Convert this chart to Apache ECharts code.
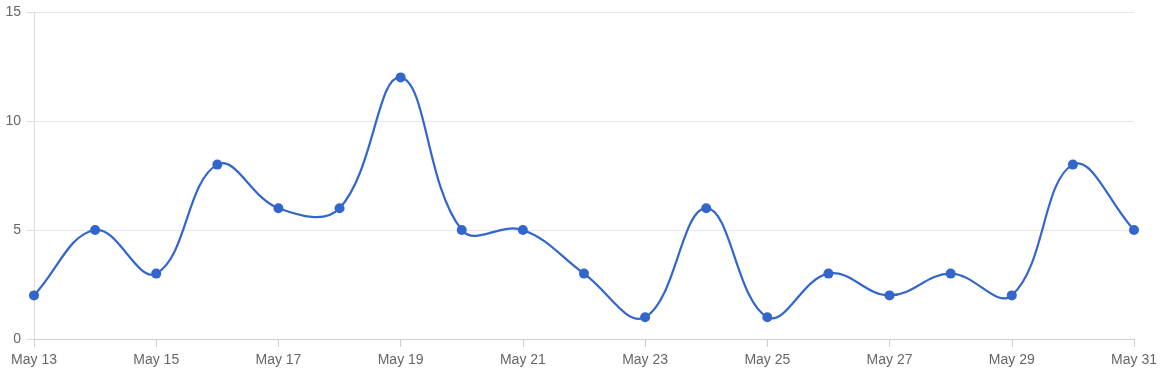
<!DOCTYPE html>
<html><head><meta charset="utf-8">
<script src="https://cdn.jsdelivr.net/npm/echarts@6/dist/echarts.min.js"></script>
<style>html,body{margin:0;padding:0;background:#fff}#c{width:1162px;height:375px}</style>
</head><body><div id="c"></div>
<script>
const categories = ['May 13','May 14','May 15','May 16','May 17','May 18','May 19','May 20','May 21','May 22','May 23','May 24','May 25','May 26','May 27','May 28','May 29','May 30','May 31'];
const values = [2,5,3,8,6,6,12,5,5,3,1,6,1,3,2,3,2,8,5];
const yTicks = [0,5,10,15];
const LINE_COLOR = '#3366cc';
const TENSION = 0.4;

function controlPoints(prev, cur, next) {
  const d01 = Math.hypot(cur[0]-prev[0], cur[1]-prev[1]);
  const d12 = Math.hypot(next[0]-cur[0], next[1]-cur[1]);
  let s01 = d01/(d01+d12), s12 = d12/(d01+d12);
  if (!isFinite(s01)) s01 = 0; if (!isFinite(s12)) s12 = 0;
  const fa = TENSION*s01, fb = TENSION*s12;
  return {
    prev: [cur[0]-fa*(next[0]-prev[0]), cur[1]-fa*(next[1]-prev[1])],
    next: [cur[0]+fb*(next[0]-prev[0]), cur[1]+fb*(next[1]-prev[1])]
  };
}

const chart = echarts.init(document.getElementById('c'));
chart.setOption({
  animation:false,
  grid:{left:34,right:28,top:12,bottom:36,containLabel:false},
  xAxis:{type:'category',data:categories,boundaryGap:false,
    axisLine:{lineStyle:{color:'#cfcfcf'}},
    axisTick:{show:true,interval:1,length:8,lineStyle:{color:'#cfcfcf'}},
    axisLabel:{interval:1,color:'#666',fontSize:14,fontFamily:'Liberation Sans, Arial',margin:14},
    splitLine:{show:false}},
  yAxis:{type:'value',min:yTicks[0],max:yTicks[yTicks.length-1],interval:5,
    axisLine:{show:true,lineStyle:{color:'#dedede'}},
    axisTick:{show:true,length:8,lineStyle:{color:'#dedede'}},
    axisLabel:{color:'#666',fontSize:14,fontFamily:'Liberation Sans, Arial',margin:13},
    splitLine:{lineStyle:{color:'#e6e6e6'}}},
  series:[
    {type:'custom',data:values.map((v,i)=>[i,v]),silent:true,z:2,
     renderItem:function(params, api){
       const i = params.dataIndex;
       if (i >= values.length-1) return null;
       const p = k => { const j = Math.max(0,Math.min(values.length-1,k)); return api.coord([j, values[j]]); };
       const a = controlPoints(p(i-1), p(i), p(i+1));
       const b = controlPoints(p(i), p(i+1), p(i+2));
       const s = p(i), e = p(i+1);
       return {type:'bezierCurve',
         shape:{x1:s[0],y1:s[1],x2:e[0],y2:e[1],cpx1:a.next[0],cpy1:a.next[1],cpx2:b.prev[0],cpy2:b.prev[1]},
         style:{stroke:LINE_COLOR,lineWidth:2.2,fill:null}};
     }},
    {type:'line',data:values,symbol:'circle',symbolSize:10,z:3,
     lineStyle:{opacity:0},itemStyle:{color:LINE_COLOR}}
  ]
});
</script></body></html>
